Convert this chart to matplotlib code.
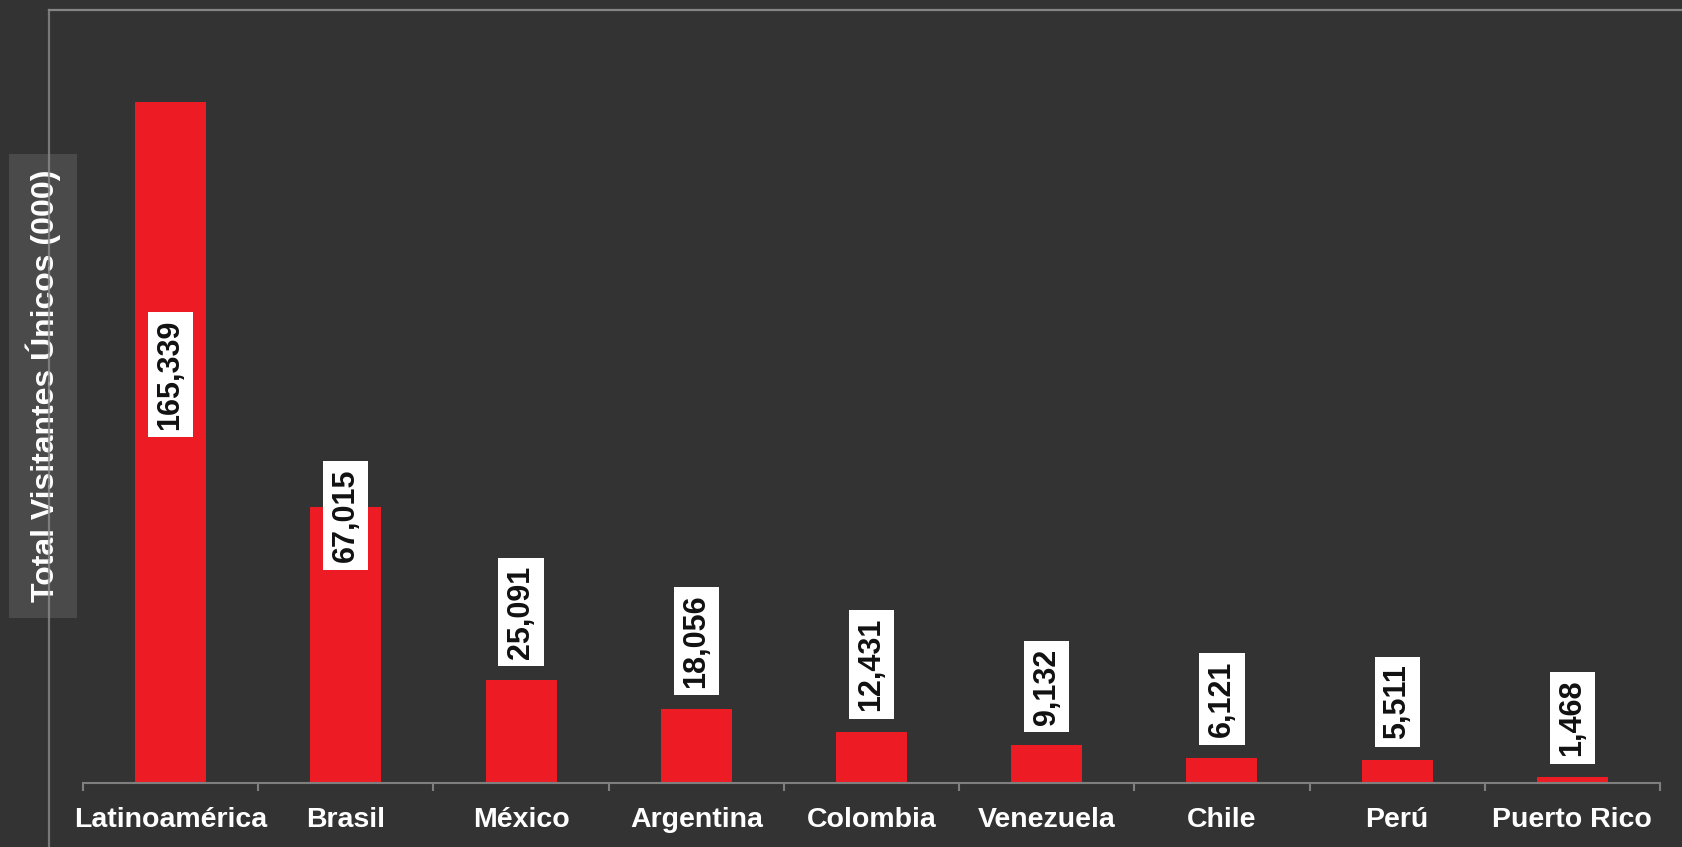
import matplotlib
matplotlib.use("Agg")
import matplotlib.pyplot as plt
from matplotlib.lines import Line2D

categories = ["Latinoamérica", "Brasil", "México", "Argentina", "Colombia",
              "Venezuela", "Chile", "Perú", "Puerto Rico"]
values = [165339, 67015, 25091, 18056, 12431, 9132, 6121, 5511, 1468]
value_labels = ["165,339", "67,015", "25,091", "18,056", "12,431",
                "9,132", "6,121", "5,511", "1,468"]
ylabel = "Total Visitantes Únicos (000)"

BG = "#323332"
RED = "#ED1C24"
LINE = "#7f7f7f"

plt.rcParams['font.family'] = ['Liberation Sans', 'DejaVu Sans']

W, H = 1682, 847
fig = plt.figure(figsize=(W / 100, H / 100), dpi=100, facecolor=BG)

left, right, base, top = 83, 1660, 783, 10
ax = fig.add_axes([left / W, (H - base) / H, (right - left) / W, (base - top) / H])
ax.set_facecolor(BG)

x = list(range(len(categories)))
ax.bar(x, values, width=0.405, color=RED, zorder=2)
ax.set_xlim(-0.5, len(categories) - 0.5)
ymax = values[0] * (base - top) / (base - 102)
ax.set_ylim(0, ymax)

for s in ["top", "right", "left"]:
    ax.spines[s].set_visible(False)
ax.spines["bottom"].set_color(LINE)
ax.spines["bottom"].set_linewidth(1.5)
ax.set_yticks([])

ax.set_xticks(x)
ax.set_xticklabels(categories, fontsize=20.5, fontweight="bold", color="#ffffff")
ax.tick_params(axis="x", which="major", length=0, pad=17)
ax.set_xticks([i - 0.5 for i in range(len(categories) + 1)], minor=True)
ax.tick_params(axis="x", which="minor", length=6, width=1.5, color=LINE, direction="out")

for i, (v, lab) in enumerate(zip(values, value_labels)):
    box = dict(boxstyle="square,pad=0.25", facecolor="white", edgecolor="none")
    if v > 100000:
        ax.text(i, v * 0.6, lab, rotation=90, ha="center", va="center",
                fontsize=22, fontweight="bold", color="#111111", bbox=box, zorder=3)
    elif v > 50000:
        ax.annotate(lab, (i, v), xytext=(0, -6), textcoords="offset points",
                    rotation=90, ha="center", va="center",
                    fontsize=22, fontweight="bold", color="#111111", bbox=box, zorder=3)
    else:
        ax.annotate(lab, (i, v), xytext=(0, 15), textcoords="offset points",
                    rotation=90, ha="center", va="bottom",
                    fontsize=22, fontweight="bold", color="#111111", bbox=box, zorder=3)

fig.text(43 / W, 1 - 386 / H, ylabel, rotation=90, ha="center", va="center",
         fontsize=23, fontweight="bold", color="#ffffff",
         bbox=dict(boxstyle="square,pad=0.5", facecolor="#4d4d4d", edgecolor="none", alpha=0.9),
         zorder=1)

fig.add_artist(Line2D([49 / W, 49 / W], [0, 1 - 10 / H], color="#8a8a8a", lw=1.6, alpha=0.8, zorder=5))
fig.add_artist(Line2D([49 / W, 1], [1 - 10 / H, 1 - 10 / H], color="#858585", lw=1.6, zorder=5))

fig.savefig("out.png", dpi=100, facecolor=BG)
